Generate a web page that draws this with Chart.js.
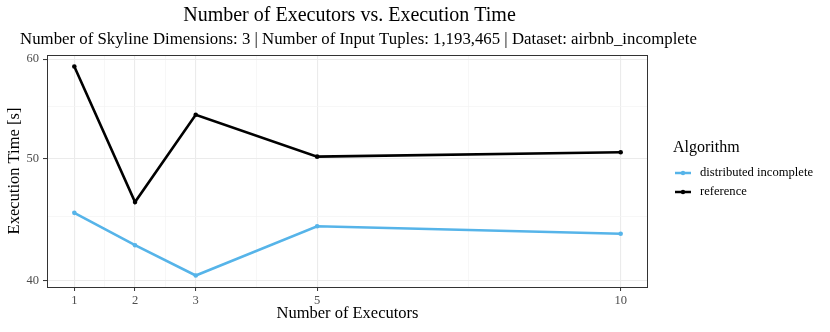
<!DOCTYPE html>
<html>
<head>
<meta charset="utf-8">
<script src="https://cdn.jsdelivr.net/npm/chart.js@4"></script>
<style>
  html, body { margin: 0; padding: 0; background: #fff; }
  #wrap { width: 830px; height: 332px; }
</style>
</head>
<body>
<div id="wrap"><canvas id="execChart" width="830" height="332"></canvas></div>
<script>
const executors = [1, 2, 3, 5, 10];
const distributedIncomplete = [45.3, 42.7, 40.4, 44.2, 43.6];
const reference = [59.2, 46.2, 54.2, 50.2, 50.6];

const xMajorTicks = [1, 2, 3, 5, 10];
const xMinorTicks = [1.5, 2.5, 4, 7.5];
const yMajorTicks = [40, 50, 60];
const yMinorTicks = [45, 55];

const titleText = 'Number of Executors vs. Execution Time';
const subtitleText = 'Number of Skyline Dimensions: 3 | Number of Input Tuples: 1,193,465 | Dataset: airbnb_incomplete';
const legendTitle = 'Algorithm';

const serif = "'Liberation Serif', 'DejaVu Serif', serif";

function toPoints(values) {
    return executors.map((x, i) => ({ x: x, y: values[i] }));
}

function isMajor(list, v) {
    return list.some(m => Math.abs(m - v) < 1e-9);
}

const decorations = {
    id: 'decorations',
    afterDraw(chart) {
        const ctx = chart.ctx;
        const area = chart.chartArea;
        ctx.save();

        // panel border
        ctx.strokeStyle = '#333333';
        ctx.lineWidth = 1;
        ctx.strokeRect(area.left + 0.5, area.top + 0.5, area.right - area.left - 1, area.bottom - area.top);

        // titles
        ctx.fillStyle = '#000';
        ctx.textAlign = 'center';
        ctx.textBaseline = 'middle';
        ctx.font = '20px ' + serif;
        ctx.fillText(titleText, 349.5, 16);
        ctx.font = '16.8px ' + serif;
        ctx.fillText(subtitleText, 358.5, 40);

        // legend
        ctx.textAlign = 'left';
        ctx.font = '16px ' + serif;
        ctx.fillText(legendTitle, 673, 148);
        chart.data.datasets.forEach((ds, i) => {
            const y = 173 + i * 19;
            ctx.strokeStyle = ds.borderColor;
            ctx.lineWidth = 2.5;
            ctx.beginPath();
            ctx.moveTo(675, y);
            ctx.lineTo(691, y);
            ctx.stroke();
            ctx.fillStyle = ds.borderColor;
            ctx.beginPath();
            ctx.arc(683, y, 2.2, 0, Math.PI * 2);
            ctx.fill();
            ctx.fillStyle = '#000';
            ctx.font = '12.6px ' + serif;
            ctx.fillText(ds.label, 700, y);
        });
        ctx.restore();
    }
};

const ctx = document.getElementById('execChart').getContext('2d');
new Chart(ctx, {
    type: 'line',
    data: {
        datasets: [
            {
                label: 'distributed incomplete',
                data: toPoints(distributedIncomplete),
                borderColor: '#56B4E9',
                backgroundColor: '#56B4E9',
                borderWidth: 2.6,
                pointRadius: 2.3,
                pointHoverRadius: 2.3,
                pointBorderWidth: 0,
                tension: 0
            },
            {
                label: 'reference',
                data: toPoints(reference),
                borderColor: '#000000',
                backgroundColor: '#000000',
                borderWidth: 2.6,
                pointRadius: 2.3,
                pointHoverRadius: 2.3,
                pointBorderWidth: 0,
                tension: 0
            }
        ]
    },
    options: {
        responsive: false,
        animation: false,
        layout: { padding: { top: 55, right: 182, bottom: 0, left: 0 } },
        plugins: {
            legend: { display: false },
            title: { display: false },
            tooltip: { enabled: false }
        },
        scales: {
            x: {
                type: 'linear',
                min: 0.55,
                max: 10.45,
                afterBuildTicks: scale => {
                    scale.ticks = xMajorTicks.concat(xMinorTicks).sort((a, b) => a - b).map(v => ({ value: v }));
                },
                afterFit: scale => { scale.height = 45; },
                border: { display: false },
                grid: {
                    color: c => isMajor(xMajorTicks, c.tick.value) ? '#EBEBEB' : '#F3F3F3',
                    lineWidth: c => isMajor(xMajorTicks, c.tick.value) ? 1.1 : 0.7,
                    tickColor: c => isMajor(xMajorTicks, c.tick.value) ? '#333333' : 'rgba(0,0,0,0)',
                    tickLength: 4,
                    tickWidth: 1
                },
                ticks: {
                    autoSkip: false,
                    maxRotation: 0,
                    padding: 2,
                    color: '#4D4D4D',
                    font: { family: serif, size: 12.5 },
                    callback: v => isMajor(xMajorTicks, v) ? String(v) : ''
                },
                title: {
                    display: true,
                    text: 'Number of Executors',
                    color: '#000',
                    font: { family: serif, size: 16.5, lineHeight: 1.2 },
                    padding: { top: 0, bottom: 8 }
                }
            },
            y: {
                type: 'logarithmic',
                min: 39.56,
                max: 60.45,
                afterBuildTicks: scale => {
                    scale.ticks = yMajorTicks.concat(yMinorTicks).sort((a, b) => a - b).map(v => ({ value: v }));
                },
                afterFit: scale => { scale.width = 47; },
                border: { display: false },
                grid: {
                    color: c => isMajor(yMajorTicks, c.tick.value) ? '#EBEBEB' : '#F3F3F3',
                    lineWidth: c => isMajor(yMajorTicks, c.tick.value) ? 1.1 : 0.7,
                    tickColor: c => isMajor(yMajorTicks, c.tick.value) ? '#333333' : 'rgba(0,0,0,0)',
                    tickLength: 4,
                    tickWidth: 1
                },
                ticks: {
                    autoSkip: false,
                    padding: 4,
                    color: '#4D4D4D',
                    font: { family: serif, size: 12.5 },
                    callback: v => isMajor(yMajorTicks, v) ? String(v) : ''
                },
                title: {
                    display: true,
                    text: 'Execution Time [s]',
                    color: '#000',
                    font: { family: serif, size: 16.5, lineHeight: 1.2 },
                    padding: { top: 5, bottom: 0 }
                }
            }
        }
    },
    plugins: [decorations]
});
</script>
</body>
</html>
